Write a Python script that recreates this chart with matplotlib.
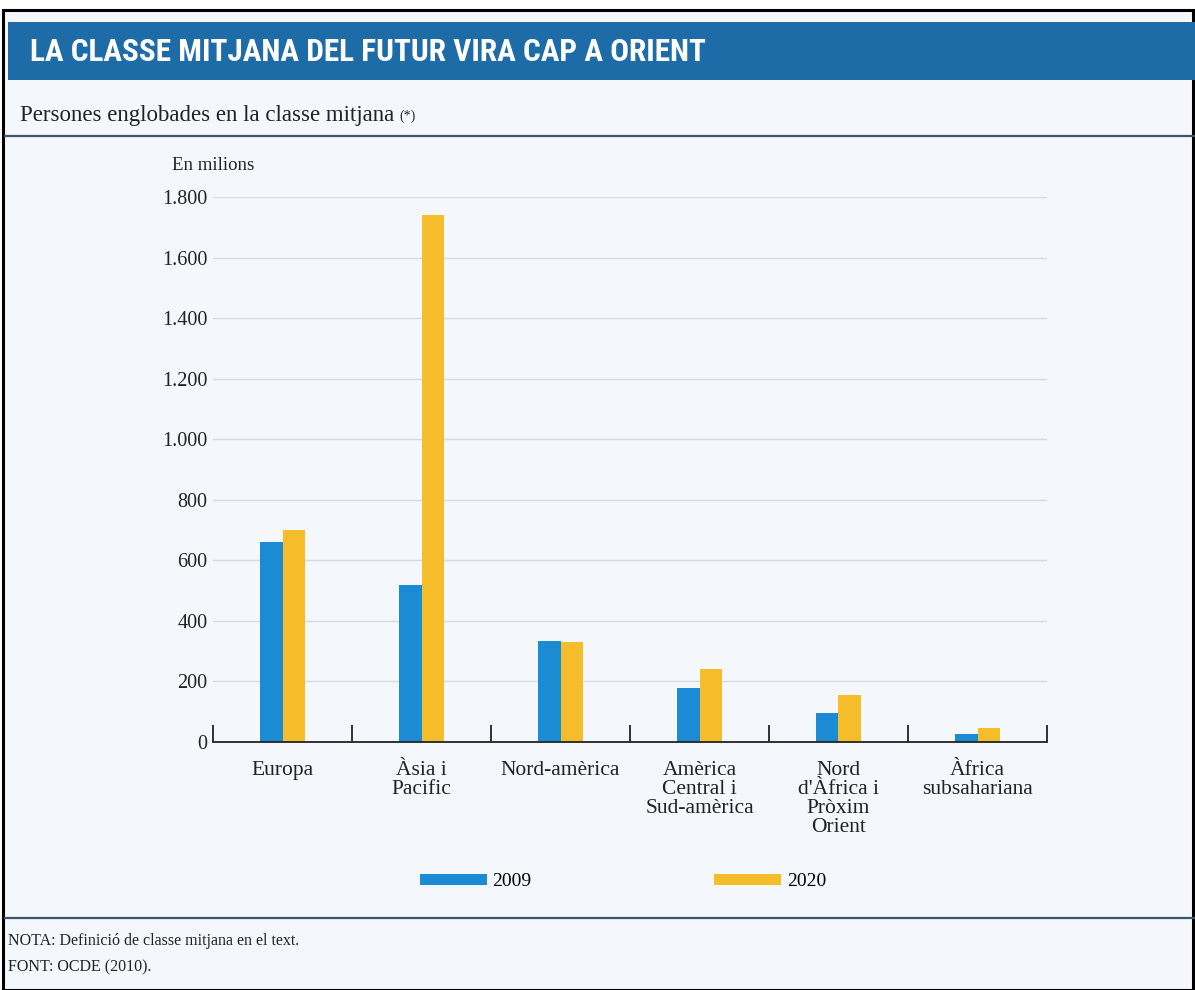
import matplotlib
matplotlib.use("Agg")
import matplotlib.pyplot as plt
from matplotlib.patches import Rectangle
import numpy as np

categories = ["Europa", "Àsia i\nPacific", "Nord-amèrica", "Amèrica\nCentral i\nSud-amèrica",
              "Nord\nd'Àfrica i\nPròxim\nOrient", "Àfrica\nsubsahariana"]
values_2009 = [660, 520, 335, 180, 95, 25]
values_2020 = [700, 1740, 330, 240, 155, 45]
series_labels = ["2009", "2020"]
yticks = [0, 200, 400, 600, 800, 1000, 1200, 1400, 1600, 1800]
ytick_labels = ["0", "200", "400", "600", "800", "1.000", "1.200", "1.400", "1.600", "1.800"]

BLUE = "#1b8cd3"
YELLOW = "#f6bd2b"
BAR_BG = "#1d6ba7"
BG = "#f4f7fb"
SERIF = ["Liberation Serif", "DejaVu Serif"]

W, H = 1195, 990
fig = plt.figure(figsize=(W / 100, H / 100), dpi=100)
fig.patch.set_facecolor("white")

def fx(x): return x / W
def fy(y): return 1 - y / H

# page background and frame
fig.add_artist(Rectangle((fx(3), 0), fx(1190), fy(10), transform=fig.transFigure,
                         facecolor=BG, edgecolor="black", linewidth=2.2, zorder=0))
# title bar
fig.add_artist(Rectangle((fx(8), fy(80)), fx(1190), (80 - 22) / H, transform=fig.transFigure,
                         facecolor=BAR_BG, edgecolor="none", zorder=1))
fig.text(fx(30), fy(52), "LA CLASSE MITJANA DEL FUTUR VIRA CAP A ORIENT",
         family=["Roboto Condensed", "Liberation Sans Narrow", "Roboto", "DejaVu Sans"],
         fontweight="bold", fontsize=22.5, color="white", va="center", ha="left", zorder=2)
sub = fig.text(fx(20), fy(115), "Persones englobades en la classe mitjana", family=SERIF,
               fontsize=16.5, color="#222222", va="center", ha="left")
fig.text(0, 0, "(*)", family=SERIF, fontsize=10, color="#222222", va="center", ha="left")
fig.texts[-1].remove()
fig.add_artist(matplotlib.text.Annotation("(*)", xy=(1, 0.5), xycoords=sub, xytext=(4, -1),
                                          textcoords="offset points", family=SERIF, fontsize=10,
                                          color="#222222", va="center", ha="left"))
fig.add_artist(plt.Line2D([fx(5), fx(1195)], [fy(136), fy(136)], transform=fig.transFigure,
                          color="#3f5468", linewidth=1.6))
fig.text(fx(172), fy(166), "En milions", family=SERIF, fontsize=13.5, color="#222222",
         va="center", ha="left")

# axes
ax = fig.add_axes([fx(213), fy(742), fx(1047) - fx(213), (742 - 197) / H])
ax.set_facecolor("none")
x = np.arange(len(categories))
bw = 0.165
ax.bar(x - bw / 2, values_2009, width=bw, color=BLUE, zorder=3, label=series_labels[0])
ax.bar(x + bw / 2, values_2020, width=bw, color=YELLOW, zorder=3, label=series_labels[1])
ax.set_xlim(-0.5, len(categories) - 0.5)
ax.set_ylim(0, 1800)
ax.set_yticks(yticks)
ax.set_yticklabels(ytick_labels, family=SERIF, fontsize=14.5, color="#222222")
ax.tick_params(axis="y", length=0, pad=4)
ax.yaxis.grid(True, color="#d5dbe3", linewidth=1.0, zorder=0)
for s in ["top", "right", "left"]:
    ax.spines[s].set_visible(False)
ax.spines["bottom"].set_color("#222222")
ax.spines["bottom"].set_linewidth(1.3)
ax.spines["bottom"].set_zorder(4)
ax.set_xticks(np.arange(-0.5, len(categories)), minor=False)
ax.set_xticklabels([""] * (len(categories) + 1))
ax.tick_params(axis="x", which="major", direction="in", length=12, width=1.3, color="#222222")
ax.set_xticks(x, minor=True)
ax.set_xticklabels(categories, minor=True, family=SERIF, fontsize=15.5, color="#222222",
                   linespacing=1.0)
ax.tick_params(axis="x", which="minor", length=0, pad=14)

# legend
handles, labels = ax.get_legend_handles_labels()
leg = fig.legend(handles, labels, loc="center", bbox_to_anchor=(fx(623), fy(882)), ncol=2,
                 frameon=False, handlelength=3.45, handleheight=0.5, columnspacing=9.4,
                 handletextpad=0.3, prop={"family": SERIF, "size": 14})

fig.add_artist(plt.Line2D([fx(5), fx(1195)], [fy(918), fy(918)], transform=fig.transFigure,
                          color="#3f5468", linewidth=1.6))
fig.text(fx(8), fy(941), "NOTA: Definició de classe mitjana en el text.", family=SERIF,
         fontsize=11.5, color="#222222", va="center", ha="left")
fig.text(fx(8), fy(967), "FONT: OCDE (2010).", family=SERIF,
         fontsize=11.5, color="#222222", va="center", ha="left")

fig.savefig("out.png", dpi=100, facecolor=fig.get_facecolor())
